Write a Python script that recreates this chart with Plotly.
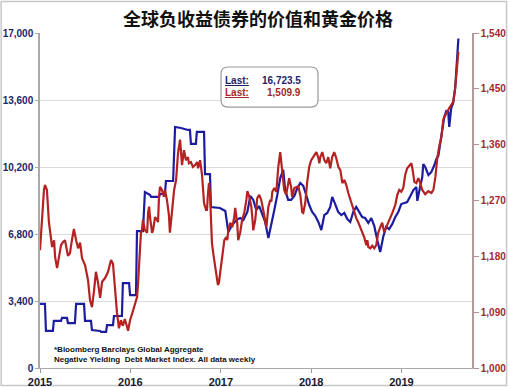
import plotly.graph_objects as go

# ---------------- data ----------------
debt_dates = [
    "2015-01-01", "2015-01-21", "2015-01-25", "2015-02-22", "2015-02-26", "2015-03-27",
    "2015-03-31", "2015-04-20", "2015-04-24", "2015-05-22", "2015-05-27", "2015-06-28",
    "2015-07-02", "2015-07-26", "2015-07-30", "2015-09-01", "2015-09-05", "2015-09-25",
    "2015-09-29", "2015-10-23", "2015-10-27", "2015-11-28", "2015-12-02", "2015-12-27",
    "2015-12-31", "2016-01-24", "2016-01-28", "2016-02-21", "2016-02-29", "2016-03-21",
    "2016-03-25", "2016-04-26", "2016-04-30", "2016-05-20", "2016-05-24", "2016-06-22",
    "2016-06-30", "2016-07-24", "2016-08-21", "2016-08-29", "2016-09-02", "2016-09-22",
    "2016-09-26", "2016-10-25", "2016-10-29", "2016-11-18", "2016-11-22", "2016-12-28",
    "2017-01-19", "2017-01-31", "2017-02-16", "2017-03-04", "2017-03-20", "2017-04-02",
    "2017-04-18", "2017-04-30", "2017-05-12", "2017-05-24", "2017-06-05", "2017-06-17",
    "2017-06-29", "2017-07-12", "2017-07-24", "2017-08-05", "2017-08-17", "2017-08-29",
    "2017-09-10", "2017-09-18", "2017-09-30", "2017-10-12", "2017-10-25", "2017-11-06",
    "2017-11-18", "2017-11-30", "2017-12-12", "2017-12-24", "2018-01-05", "2018-01-18",
    "2018-01-30", "2018-02-11", "2018-02-23", "2018-03-07", "2018-03-19", "2018-03-27",
    "2018-04-08", "2018-04-20", "2018-05-03", "2018-05-15", "2018-05-27", "2018-06-08",
    "2018-06-20", "2018-07-02", "2018-07-14", "2018-07-26", "2018-08-07", "2018-08-20",
    "2018-09-01", "2018-09-13", "2018-09-25", "2018-10-07", "2018-10-19", "2018-10-31",
    "2018-11-12", "2018-11-25", "2018-12-07", "2018-12-19", "2018-12-31", "2019-01-12",
    "2019-01-24", "2019-02-06", "2019-02-18", "2019-03-02", "2019-03-06", "2019-03-18",
    "2019-03-26", "2019-03-30", "2019-04-07", "2019-04-20", "2019-05-02", "2019-05-14",
    "2019-05-22", "2019-05-30", "2019-06-07", "2019-06-15", "2019-06-23", "2019-07-01",
    "2019-07-09", "2019-07-13", "2019-07-21", "2019-07-29", "2019-08-06", "2019-08-15",
    "2019-08-19",
]
debt_values = [
    3250, 3250, 1880, 1880, 2390, 2390,
    2540, 2540, 2280, 2280, 3250, 3250,
    2390, 2390, 1930, 1880, 1830, 1830,
    2180, 2180, 2640, 2640, 4310, 4310,
    3700, 3700, 6950, 6950, 8930, 8780,
    8680, 8680, 8830, 8830, 9490, 9490,
    12230, 12180, 12080, 12080, 11370, 11370,
    11980, 11980, 9840, 9840, 8170, 8120,
    7970, 6900, 7260, 7510, 7610, 7510,
    7920, 8730, 8530, 8020, 8220, 7760,
    7410, 6600, 7260, 8020, 8780, 9640,
    10050, 9030, 8530, 8530, 8730, 9130,
    9390, 9240, 8780, 8270, 7920, 7710,
    7410, 7000, 7760, 7870, 8170, 8680,
    8320, 7920, 7760, 7870, 7560, 7410,
    7920, 8170, 7920, 7660, 7610, 7360,
    7610, 7210, 6500, 5890, 6650, 7160,
    7050, 7310, 7660, 7920, 8320, 8370,
    8420, 8730, 9030, 9190, 8480, 9240,
    9690, 10350, 10200, 9790, 9950, 10300,
    10610, 10760, 11570, 12080, 12740, 13040,
    12990, 12230, 13190, 13450, 14210, 16140,
    16723.5,
]

gold_dates = [
    "2015-01-01", "2015-01-09", "2015-01-17", "2015-01-21", "2015-01-29", "2015-02-06",
    "2015-02-14", "2015-02-19", "2015-02-27", "2015-03-03", "2015-03-11", "2015-03-19",
    "2015-03-27", "2015-04-04", "2015-04-12", "2015-04-24", "2015-05-02", "2015-05-10",
    "2015-05-18", "2015-05-27", "2015-06-04", "2015-06-12", "2015-06-20", "2015-07-02",
    "2015-07-14", "2015-07-22", "2015-07-30", "2015-08-07", "2015-08-15", "2015-08-23",
    "2015-09-01", "2015-09-09", "2015-09-21", "2015-10-03", "2015-10-15", "2015-10-23",
    "2015-10-31", "2015-11-08", "2015-11-16", "2015-11-24", "2015-12-02", "2015-12-10",
    "2015-12-23", "2015-12-31", "2016-01-08", "2016-01-16", "2016-01-24", "2016-01-28",
    "2016-02-01", "2016-02-05", "2016-02-09", "2016-02-13", "2016-02-17", "2016-02-21",
    "2016-02-29", "2016-03-09", "2016-03-13", "2016-03-17", "2016-03-21", "2016-03-29",
    "2016-04-02", "2016-04-10", "2016-04-18", "2016-04-22", "2016-04-26", "2016-04-30",
    "2016-05-08", "2016-05-16", "2016-05-20", "2016-05-28", "2016-06-05", "2016-06-09",
    "2016-06-17", "2016-06-26", "2016-07-04", "2016-07-12", "2016-07-20", "2016-07-24",
    "2016-07-28", "2016-08-05", "2016-08-13", "2016-08-21", "2016-08-25", "2016-09-02",
    "2016-09-10", "2016-09-19", "2016-09-27", "2016-10-01", "2016-10-09", "2016-10-17",
    "2016-10-21", "2016-10-25", "2016-11-02", "2016-11-06", "2016-11-10", "2016-11-14",
    "2016-11-18", "2016-11-22", "2016-11-26", "2016-12-04", "2016-12-12", "2016-12-20",
    "2016-12-24", "2016-12-28", "2017-01-03", "2017-01-07", "2017-01-15", "2017-01-23",
    "2017-01-27", "2017-01-31", "2017-02-08", "2017-02-16", "2017-02-24", "2017-02-28",
    "2017-03-08", "2017-03-12", "2017-03-20", "2017-03-28", "2017-04-06", "2017-04-14",
    "2017-04-18", "2017-04-26", "2017-05-04", "2017-05-08", "2017-05-12", "2017-05-20",
    "2017-05-24", "2017-05-28", "2017-06-05", "2017-06-13", "2017-06-21", "2017-06-29",
    "2017-07-04", "2017-07-12", "2017-07-20", "2017-07-24", "2017-07-28", "2017-08-05",
    "2017-08-13", "2017-08-17", "2017-08-21", "2017-08-29", "2017-09-02", "2017-09-06",
    "2017-09-14", "2017-09-22", "2017-09-30", "2017-10-04", "2017-10-12", "2017-10-16",
    "2017-10-25", "2017-11-02", "2017-11-10", "2017-11-18", "2017-11-26", "2017-11-30",
    "2017-12-08", "2017-12-16", "2017-12-24", "2018-01-01", "2018-01-14", "2018-01-22",
    "2018-01-30", "2018-02-03", "2018-02-07", "2018-02-15", "2018-02-23", "2018-03-03",
    "2018-03-11", "2018-03-19", "2018-03-27", "2018-04-04", "2018-04-12", "2018-04-21",
    "2018-04-29", "2018-05-07", "2018-05-15", "2018-05-23", "2018-05-31", "2018-06-08",
    "2018-06-16", "2018-06-24", "2018-07-02", "2018-07-10", "2018-07-18", "2018-07-27",
    "2018-08-04", "2018-08-12", "2018-08-16", "2018-08-20", "2018-08-28", "2018-09-05",
    "2018-09-13", "2018-09-21", "2018-09-29", "2018-10-07", "2018-10-15", "2018-10-23",
    "2018-10-31", "2018-11-09", "2018-11-17", "2018-11-25", "2018-12-07", "2018-12-15",
    "2018-12-23", "2018-12-31", "2019-01-08", "2019-01-16", "2019-01-24", "2019-02-02",
    "2019-02-10", "2019-02-14", "2019-02-22", "2019-03-02", "2019-03-10", "2019-03-18",
    "2019-03-26", "2019-04-07", "2019-04-19", "2019-05-02", "2019-05-10", "2019-05-18",
    "2019-05-26", "2019-06-03", "2019-06-11", "2019-06-19", "2019-06-27", "2019-07-05",
    "2019-07-13", "2019-07-21", "2019-07-29", "2019-08-06", "2019-08-15", "2019-08-19",
]
gold_values = [
    1190, 1247, 1287, 1295, 1287, 1235,
    1211, 1195, 1206, 1179, 1161, 1182,
    1198, 1203, 1206, 1181, 1185, 1206,
    1224, 1206, 1193, 1202, 1177, 1166,
    1142, 1110, 1098, 1123, 1155, 1139,
    1113, 1139, 1145, 1155, 1174, 1168,
    1126, 1090, 1064, 1077, 1068, 1079,
    1060, 1077, 1087, 1097, 1106, 1114,
    1134, 1166, 1203, 1218, 1222, 1239,
    1222, 1218, 1251, 1260, 1242, 1218,
    1222, 1243, 1239, 1235, 1276, 1292,
    1287, 1276, 1287, 1271, 1247, 1218,
    1250, 1287, 1303, 1347, 1368, 1351,
    1327, 1351, 1335, 1340, 1330, 1332,
    1324, 1327, 1332, 1322, 1335, 1311,
    1292, 1266, 1255, 1255, 1282, 1298,
    1282, 1227, 1201, 1177, 1153, 1134,
    1137, 1150, 1166, 1187, 1206, 1211,
    1206, 1222, 1234, 1227, 1243, 1258,
    1234, 1206, 1218, 1239, 1251, 1271,
    1285, 1276, 1260, 1243, 1222, 1239,
    1263, 1274, 1279, 1271, 1255, 1234,
    1227, 1260, 1271, 1268, 1284, 1290,
    1284, 1303, 1324, 1348, 1335, 1314,
    1287, 1279, 1300, 1306, 1292, 1276,
    1290, 1292, 1293, 1279, 1251, 1250,
    1266, 1300, 1324, 1335, 1343, 1348,
    1339, 1330, 1340, 1348, 1335, 1330,
    1340, 1322, 1340, 1348, 1339, 1324,
    1319, 1298, 1303, 1295, 1282, 1271,
    1260, 1250, 1242, 1235, 1227, 1218,
    1210, 1198, 1206, 1195, 1193, 1197,
    1193, 1198, 1218, 1227, 1234, 1219,
    1226, 1235, 1242, 1250, 1263, 1279,
    1287, 1284, 1290, 1311, 1322, 1327,
    1330, 1322, 1300, 1298, 1306, 1298,
    1287, 1280, 1285, 1282, 1287, 1308,
    1339, 1358, 1372, 1401, 1408, 1413,
    1419, 1424, 1429, 1451, 1496, 1509.9,
]

debt_ticks = [0, 3400, 6800, 10200, 13600, 17000]
gold_ticks = [1000, 1090, 1180, 1270, 1360, 1450, 1540]
year_ticks = ["2015-01-01", "2016-01-01", "2017-01-01", "2018-01-01", "2019-01-01"]
year_labels = ["2015", "2016", "2017", "2018", "2019"]

title_text = "全球负收益债券的价值和黄金价格"
last_debt = "16,723.5"
last_gold = "1,509.9"
note_lines = ["*Bloomberg Barclays Global Aggregate",
              "Negative Yielding  Debt Market Index. All data weekly"]

# ---------------- styles ----------------
BLUE = "#1c1ca0"
RED = "#b42222"
NAVY_TXT = "#1f2468"
RED_TXT = "#a32a2a"
FONT = "Liberation Sans"

fig = go.Figure()
fig.add_trace(go.Scatter(x=debt_dates, y=debt_values, mode="lines",
                         line=dict(color=BLUE, width=2.2), yaxis="y",
                         hoverinfo="skip"))
fig.add_trace(go.Scatter(x=gold_dates, y=gold_values, mode="lines",
                         line=dict(color=RED, width=2.2), yaxis="y2",
                         hoverinfo="skip"))

fig.update_layout(
    width=508, height=387,
    margin=dict(l=40, r=36, t=33, b=19, autoexpand=False),
    paper_bgcolor="white", plot_bgcolor="white",
    showlegend=False,
    title=dict(text=title_text, x=0.508, y=0.948, xanchor="center", yanchor="middle",
               font=dict(family="Noto Sans CJK SC", size=18, color="#111111", weight="bold")),
    xaxis=dict(type="date", range=["2015-01-01", "2019-10-13"],
               tickvals=year_ticks, ticktext=year_labels,
               ticks="outside", ticklen=4, tickcolor="#999999",
               showline=True, linecolor="#aaaaaa", linewidth=1,
               showgrid=False, zeroline=False,
               tickfont=dict(family=FONT, size=11, color="#1a1a2e", weight="bold")),
    yaxis=dict(range=[0, 17000], tickvals=debt_ticks, tickformat=",",
               ticks="outside", ticklen=3, tickcolor="#aaaaaa",
               showline=True, linecolor="#aaaaaa", linewidth=1.5,
               showgrid=True, gridcolor="#dcdcdc", gridwidth=1, zeroline=False,
               tickfont=dict(family=FONT, size=10, color=NAVY_TXT, weight="bold")),
    yaxis2=dict(range=[1000, 1540], tickvals=gold_ticks, tickformat=",",
                overlaying="y", side="right",
                ticks="outside", ticklen=5, tickcolor="#b09090",
                showline=True, linecolor="#b09a9a", linewidth=1.5,
                showgrid=False, zeroline=False,
                tickfont=dict(family=FONT, size=10, color=RED_TXT, weight="bold")),
)

# rounded box for "Last" values (paper coords)
x0, x1, y0, y1 = 0.419, 0.6435, 0.779, 0.8985
rx, ry = 0.016, 0.021
path = (f"M {x0+rx},{y1} L {x1-rx},{y1} Q {x1},{y1} {x1},{y1-ry} "
        f"L {x1},{y0+ry} Q {x1},{y0} {x1-rx},{y0} L {x0+rx},{y0} "
        f"Q {x0},{y0} {x0},{y0+ry} L {x0},{y1-ry} Q {x0},{y1} {x0+rx},{y1} Z")
fig.add_shape(type="path", path=path, xref="paper", yref="paper",
              line=dict(color="#9a9a9a", width=1.2), fillcolor="white", layer="above")

# outer frame
fig.add_shape(type="rect", xref="paper", yref="paper",
              x0=-0.090, x1=1.080, y0=-0.052, y1=1.094,
              line=dict(color="#c8c8c8", width=1.5), layer="below")

ann_font = dict(family=FONT, size=10, weight="bold")
fig.add_annotation(x=0.455, y=0.857, xref="paper", yref="paper", text="<u>Last:</u>",
                   showarrow=False, xanchor="center", yanchor="middle",
                   font=dict(color=NAVY_TXT, **ann_font))
fig.add_annotation(x=0.608, y=0.857, xref="paper", yref="paper", text=last_debt,
                   showarrow=False, xanchor="right", yanchor="middle",
                   font=dict(color=NAVY_TXT, **ann_font))
fig.add_annotation(x=0.455, y=0.821, xref="paper", yref="paper", text="<u>Last:</u>",
                   showarrow=False, xanchor="center", yanchor="middle",
                   font=dict(color=RED_TXT, **ann_font))
fig.add_annotation(x=0.608, y=0.821, xref="paper", yref="paper", text=last_gold,
                   showarrow=False, xanchor="right", yanchor="middle",
                   font=dict(color=RED_TXT, **ann_font))

fig.add_annotation(x=0.028, y=0.054, xref="paper", yref="paper", text=note_lines[0],
                   showarrow=False, xanchor="left", yanchor="middle",
                   font=dict(family=FONT, size=8, color="#111111", weight="bold"))
fig.add_annotation(x=0.028, y=0.024, xref="paper", yref="paper", text=note_lines[1],
                   showarrow=False, xanchor="left", yanchor="middle",
                   font=dict(family=FONT, size=8, color="#111111", weight="bold"))

fig.write_html("out.html", config={"displayModeBar": False},
               post_script="document.body.style.margin='0';document.body.style.padding='0';")
